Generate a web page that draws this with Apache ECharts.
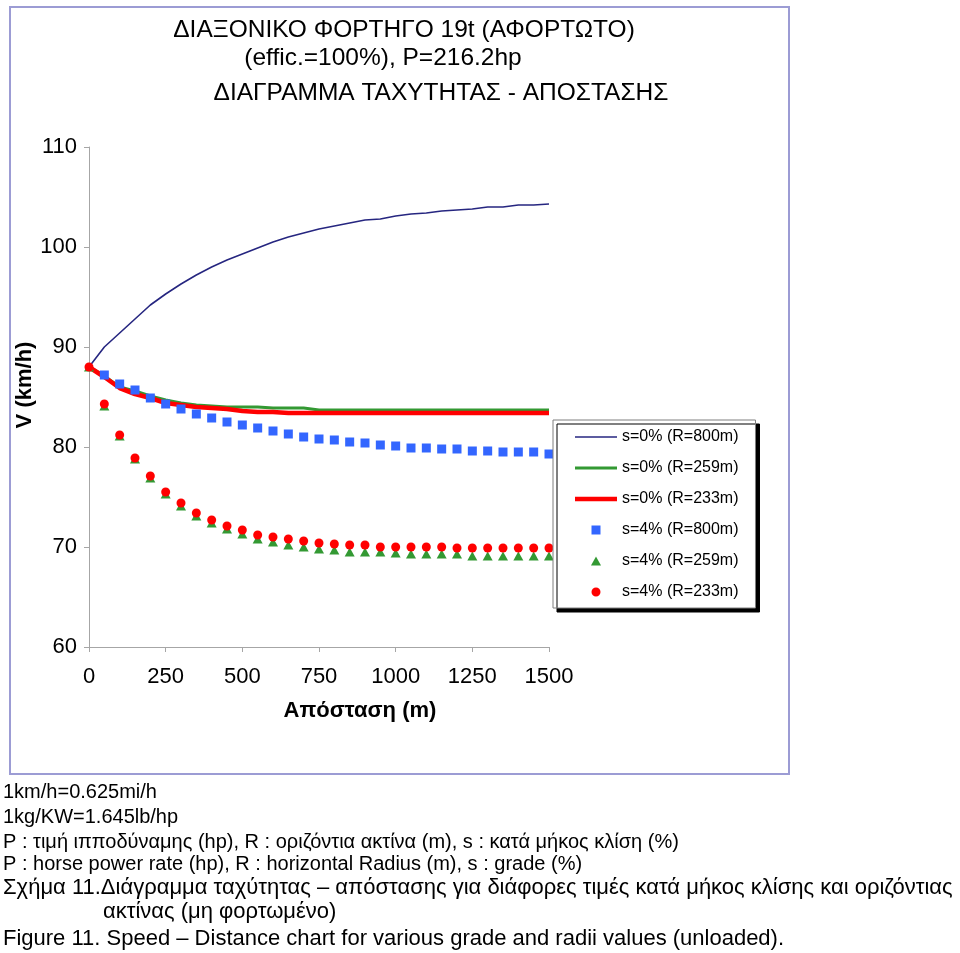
<!DOCTYPE html>
<html>
<head>
<meta charset="utf-8">
<script src="https://cdn.jsdelivr.net/npm/echarts@6/dist/echarts.min.js"></script>
<style>
html,body{margin:0;padding:0;background:#fff;}
#chart{width:960px;height:953px;}
</style>
</head>
<body>
<div id="chart"></div>
<script>
// ---- data ----
const distances = [0,50,100,150,200,250,300,350,400,450,500,550,600,650,700,750,800,850,900,950,1000,1050,1100,1150,1200,1250,1300,1350,1400,1450,1500];
const seriesNames = ['s=0% (R=800m)','s=0% (R=259m)','s=0% (R=233m)','s=4% (R=800m)','s=4% (R=259m)','s=4% (R=233m)'];
const s0_R800 = [88,90.0,91.4,92.8,94.2,95.3,96.3,97.2,98.0,98.7,99.3,99.9,100.5,101.0,101.4,101.8,102.1,102.4,102.7,102.8,103.1,103.3,103.4,103.6,103.7,103.8,104.0,104.0,104.2,104.2,104.3];
const s0_R259 = [88,87.1,86.0,85.6,85.1,84.7,84.4,84.2,84.1,84.0,84.0,84.0,83.9,83.9,83.9,83.7,83.7,83.7,83.7,83.7,83.7,83.7,83.7,83.7,83.7,83.7,83.7,83.7,83.7,83.7,83.7];
const s0_R233 = [88,87.0,85.9,85.3,84.9,84.4,84.2,84.0,83.9,83.8,83.6,83.5,83.5,83.4,83.4,83.4,83.4,83.4,83.4,83.4,83.4,83.4,83.4,83.4,83.4,83.4,83.4,83.4,83.4,83.4,83.4];
const s4_R800 = [null,87.2,86.3,85.7,84.9,84.3,83.8,83.3,82.9,82.5,82.2,81.9,81.6,81.3,81.0,80.8,80.7,80.5,80.4,80.2,80.1,79.9,79.9,79.8,79.8,79.6,79.6,79.5,79.5,79.5,79.3];
const s4_R259 = [88,84.1,81.1,78.8,76.9,75.3,74.1,73.1,72.4,71.8,71.3,70.8,70.5,70.2,70.0,69.8,69.7,69.5,69.5,69.5,69.4,69.3,69.3,69.3,69.3,69.1,69.1,69.1,69.1,69.1,69.1];
const s4_R233 = [88,84.3,81.2,78.9,77.1,75.5,74.4,73.4,72.7,72.1,71.7,71.2,71.0,70.8,70.6,70.4,70.3,70.2,70.2,70.0,70.0,70.0,70.0,70.0,69.9,69.9,69.9,69.9,69.9,69.9,69.9];
const xTicks = [0,250,500,750,1000,1250,1500];
const yTicks = [60,70,80,90,100,110];

const titleLines = ['ΔΙΑΞΟΝΙΚΟ ΦΟΡΤΗΓΟ 19t (ΑΦΟΡΤΩΤΟ)','(effic.=100%), P=216.2hp','ΔΙΑΓΡΑΜΜΑ ΤΑΧΥΤΗΤΑΣ - ΑΠΟΣΤΑΣΗΣ'];
const xAxisName = 'Απόσταση (m)';
const yAxisName = 'V (km/h)';
const noteLines = [
  '1km/h=0.625mi/h',
  '1kg/KW=1.645lb/hp',
  'P : τιμή ιπποδύναμης (hp), R : οριζόντια ακτίνα (m), s : κατά μήκος κλίση (%)',
  'P : horse power rate (hp), R : horizontal Radius (m), s : grade (%)',
  'Σχήμα 11.Διάγραμμα ταχύτητας – απόστασης για διάφορες τιμές κατά μήκος κλίσης και οριζόντιας',
  'ακτίνας (μη φορτωμένο)',
  'Figure 11. Speed – Distance chart for various grade and radii values (unloaded).'
];

// ---- build ----
const pairs = vals => distances.map((d,i) => [d, vals[i]]);
const FONT = '"Liberation Sans", Arial, sans-serif';
const chart = echarts.init(document.getElementById('chart'), null, {renderer:'canvas'});

const noteY = [792,817,842,864,888,912,939];
const noteX = [3,3,3,3,3,103,3];
const noteSize = [20,20,20,20,22,22,22];

const graphics = [
  {type:'rect', shape:{x:10,y:7,width:779,height:767}, style:{fill:'none', stroke:'#9c9cd4', lineWidth:2}, z:-1},
  {type:'text', x:404, y:30, style:{text:titleLines[0], font:'24.5px '+FONT, fill:'#000', textAlign:'center', textVerticalAlign:'middle'}},
  {type:'text', x:383, y:58, style:{text:titleLines[1], font:'24.5px '+FONT, fill:'#000', textAlign:'center', textVerticalAlign:'middle'}},
  {type:'text', x:441, y:93, style:{text:titleLines[2], font:'24.5px '+FONT, fill:'#000', textAlign:'center', textVerticalAlign:'middle'}}
];
noteLines.forEach((t,i) => {
  graphics.push({type:'text', x:noteX[i], y:noteY[i], style:{text:t, font:noteSize[i]+'px '+FONT, fill:'#000', textAlign:'left', textVerticalAlign:'middle'}});
});

const option = {
  backgroundColor:'#fff',
  animation:false,
  grid:{left:89, top:147, width:460, height:500, containLabel:false},
  xAxis:{
    type:'value', min:xTicks[0], max:xTicks[xTicks.length-1], interval:250,
    name:xAxisName, nameLocation:'middle', nameGap:53,
    nameTextStyle:{fontFamily:FONT, fontSize:22, fontWeight:'bold', color:'#000', padding:[0,0,0,82]},
    axisLine:{show:true, lineStyle:{color:'#a6a6a6', width:1}},
    axisTick:{show:true, length:5, inside:false, lineStyle:{color:'#a6a6a6'}},
    axisLabel:{fontFamily:FONT, fontSize:22, color:'#000', margin:19, formatter:v => String(v)},
    splitLine:{show:false}
  },
  yAxis:{
    type:'value', min:yTicks[0], max:yTicks[yTicks.length-1], interval:10,
    name:yAxisName, nameLocation:'middle', nameGap:43,
    nameTextStyle:{fontFamily:FONT, fontSize:22, fontWeight:'bold', color:'#000', padding:[0,0,0,24]},
    axisLine:{show:true, lineStyle:{color:'#a6a6a6', width:1}},
    axisTick:{show:true, length:5, inside:false, lineStyle:{color:'#a6a6a6'}},
    axisLabel:{fontFamily:FONT, fontSize:22, color:'#000', margin:12, formatter:v => String(v)},
    splitLine:{show:false}
  },
  legend:{
    orient:'vertical', left:553, top:420,
    padding:[9,17,8,22], itemGap:15, itemWidth:42, itemHeight:9,
    backgroundColor:'#fff', borderColor:'#7f7f7f', borderWidth:1,
    shadowColor:'#000', shadowBlur:0.01, shadowOffsetX:4, shadowOffsetY:4,
    textStyle:{fontFamily:FONT, fontSize:16, color:'#000', lineHeight:16},
    data:[
      {name:seriesNames[0], icon:'path://M0,0H42V1.6H0Z'},
      {name:seriesNames[1], icon:'path://M0,0H42V3.2H0Z'},
      {name:seriesNames[2], icon:'path://M0,0H42V4.6H0Z'},
      {name:seriesNames[3], icon:'path://M0,0H9V9H0Z'},
      {name:seriesNames[4], icon:'path://M5,0L10,9L0,9Z'},
      {name:seriesNames[5], icon:'path://M4.5,0A4.5,4.5,0,1,1,4.49,0Z'}
    ]
  },
  graphic:graphics,
  series:[
    {name:seriesNames[0], type:'line', data:pairs(s0_R800), symbol:'none', color:'#262680', lineStyle:{width:1.6, color:'#262680'}, z:2},
    {name:seriesNames[1], type:'line', data:pairs(s0_R259), symbol:'none', color:'#339933', lineStyle:{width:3.2, color:'#339933'}, z:2},
    {name:seriesNames[2], type:'line', data:pairs(s0_R233), symbol:'none', color:'#ff0000', lineStyle:{width:4.6, color:'#ff0000'}, z:2},
    {name:seriesNames[3], type:'scatter', data:pairs(s4_R800), symbol:'rect', symbolSize:9, color:'#3366ff', itemStyle:{color:'#3366ff', opacity:1}, z:3},
    {name:seriesNames[4], type:'scatter', data:pairs(s4_R259), symbol:'triangle', symbolSize:[10,9], color:'#339933', itemStyle:{color:'#339933', opacity:1}, z:3},
    {name:seriesNames[5], type:'scatter', data:pairs(s4_R233), symbol:'circle', symbolSize:9, color:'#ff0000', itemStyle:{color:'#ff0000', opacity:1}, z:3}
  ]
};
chart.setOption(option);
</script>
</body>
</html>
